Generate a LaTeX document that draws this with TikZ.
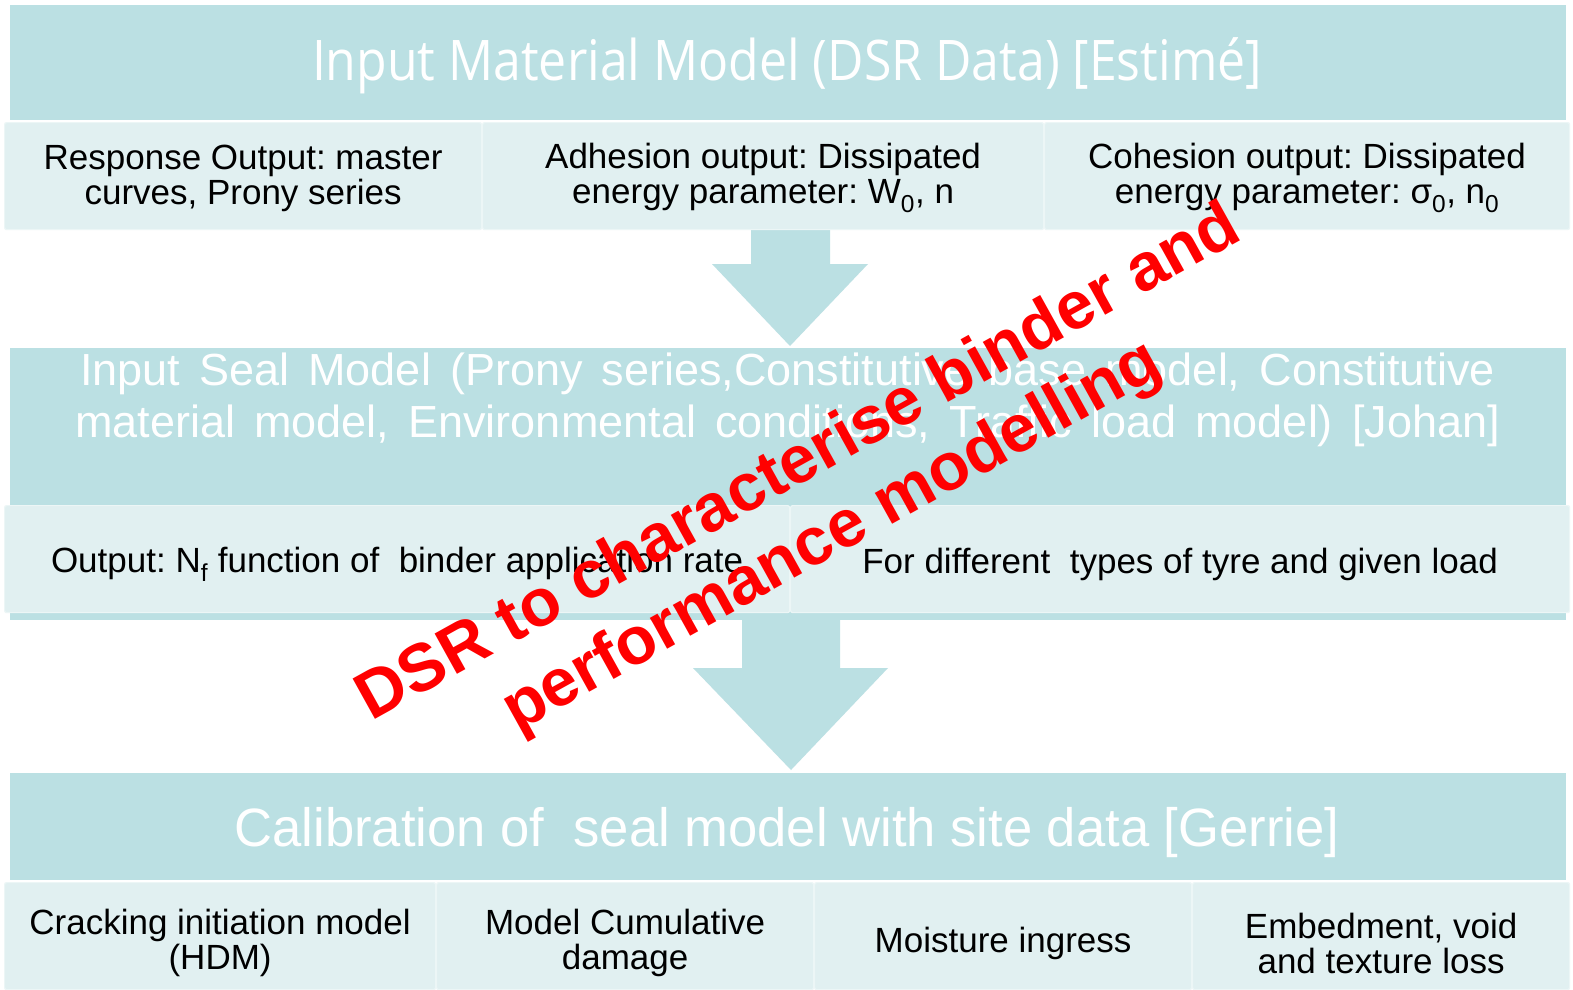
\documentclass[tikz,border=0pt]{standalone}
\usepackage{fontspec}
\usepackage{graphicx}
\setmainfont{Liberation Sans}
\newfontfamily\headfont{Open Sans}
\frenchspacing
\definecolor{band}{RGB}{187,224,227}
\definecolor{cellfill}{RGB}{225,240,241}
\definecolor{celledge}{RGB}{236,246,246}
% squeeze or stretch a line of text horizontally to a given width (in pt)
\newsavebox\fitbox
\newcommand\fitto[2]{\sbox\fitbox{#2}\pgfmathsetmacro\fitratio{#1/\wd\fitbox}\scalebox{\fitratio}[1]{\usebox\fitbox}}
\begin{document}
\begin{tikzpicture}[x=1pt,y=-1pt,
  bandbox/.style={fill=band, draw=none, inner sep=0pt, anchor=north west},
  cell/.style={fill=cellfill, draw=celledge, line width=1.2pt, rounded corners=2pt,
    inner sep=0pt, anchor=north west, minimum height=107pt},
  celltext/.style={inner sep=0pt, align=center, font=\fontsize{35}{35}\selectfont},
  headtext/.style={text=white, inner sep=0pt},
  blockarrow/.style={fill=band, draw=none},
  stamp/.style={text=red, font=\bfseries\fontsize{67}{67}\selectfont,
    rotate=29, anchor=base, inner sep=0pt}]
\useasboundingbox (0,0) rectangle (1573,989);
\fill[white] (0,0) rectangle (1573,989);

% block arrows between the stages
\fill[blockarrow] (751,226) -- (830,226) -- (830,264) -- (868,264) -- (790,346)
  -- (712,264) -- (751,264) -- cycle;
\fill[blockarrow] (742,615) -- (840,615) -- (840,668) -- (888,668) -- (791,770)
  -- (693,668) -- (742,668) -- cycle;

% stage 1: material model
\node[bandbox, minimum width=1556pt, minimum height=115pt] (band1) at (10,5) {};
\node[headtext, font=\headfont\fontsize{56}{56}\selectfont] (title1) at (787,66)
  {\fitto{950}{Input Material Model (DSR Data) [Estimé]}};
\node[cell, minimum width=477pt] (r1a) at (4,122) {};
\node[cell, minimum width=561pt] (r1b) at (482,122) {};
\node[cell, minimum width=525pt] (r1c) at (1044,122) {};
\begin{scope}[every node/.append style={yshift=-2pt}]
\node[celltext] (t1a) at (r1a.center) {Response Output: master\\curves, Prony series};
\node[celltext] (t1b) at (r1b.center)
  {Adhesion output: Dissipated\\energy parameter: W\textsubscript{0}, n};
\node[celltext] (t1c) at (r1c.center)
  {Cohesion output: Dissipated\\energy parameter: σ\textsubscript{0}, n\textsubscript{0}};
\end{scope}

% stage 2: seal model
\node[bandbox, minimum width=1556pt, minimum height=272pt] (band2) at (10,348) {};
\node[headtext, anchor=base, font=\fontsize{45}{45}\selectfont] (seal1) at (787.5,385)
  {\makebox[1415pt][s]{Input Seal Model (Prony series,Constitutive base model, Constitutive}};
\node[headtext, anchor=base, font=\fontsize{45}{45}\selectfont] (seal2) at (787.5,437)
  {\makebox[1425pt][s]{material model, Environmental conditions, Traffic load model) [Johan]}};
\node[cell, minimum width=785pt] (r2a) at (4,505) {};
\node[cell, minimum width=779pt] (r2b) at (790,505) {};
\begin{scope}[every node/.append style={yshift=-5pt}]
\node[celltext] (t2a) at (r2a.center)
  {Output: N\textsubscript{f} function of\ \ binder application rate};
\node[celltext] (t2b) at (r2b.center)
  {For different\ \ types of tyre and given load};
\end{scope}

% stage 3: calibration
\node[bandbox, minimum width=1556pt, minimum height=107pt] (band3) at (10,773) {};
\node[headtext, font=\fontsize{54}{54}\selectfont] (title3) at (787,833)
  {\fitto{1105}{Calibration of\ \ seal model with site data [Gerrie]}};
\node[cell, minimum width=431pt] (r3a) at (4,882) {};
\node[cell, minimum width=377pt] (r3b) at (436,882) {};
\node[cell, minimum width=377pt] (r3c) at (814,882) {};
\node[cell, minimum width=377pt] (r3d) at (1192,882) {};
\begin{scope}[every node/.append style={yshift=-7pt, font=\fontsize{35}{37}\selectfont}]
\node[celltext] (t3a) at (r3a.center) {Cracking initiation model\\(HDM)};
\node[celltext] (t3b) at (r3b.center) {Model Cumulative\\damage};
\node[celltext] (t3c) at (r3c.center) {Moisture ingress};
\node[celltext] (t3d) at (r3d.center) {Embedment, void\\and texture loss};
\end{scope}

% diagonal red overlay
\node[stamp] (stamp1) at (808,480) {DSR to characterise binder and};
\node[stamp] (stamp2) at (841,553) {performance modelling};
\end{tikzpicture}
\end{document}
